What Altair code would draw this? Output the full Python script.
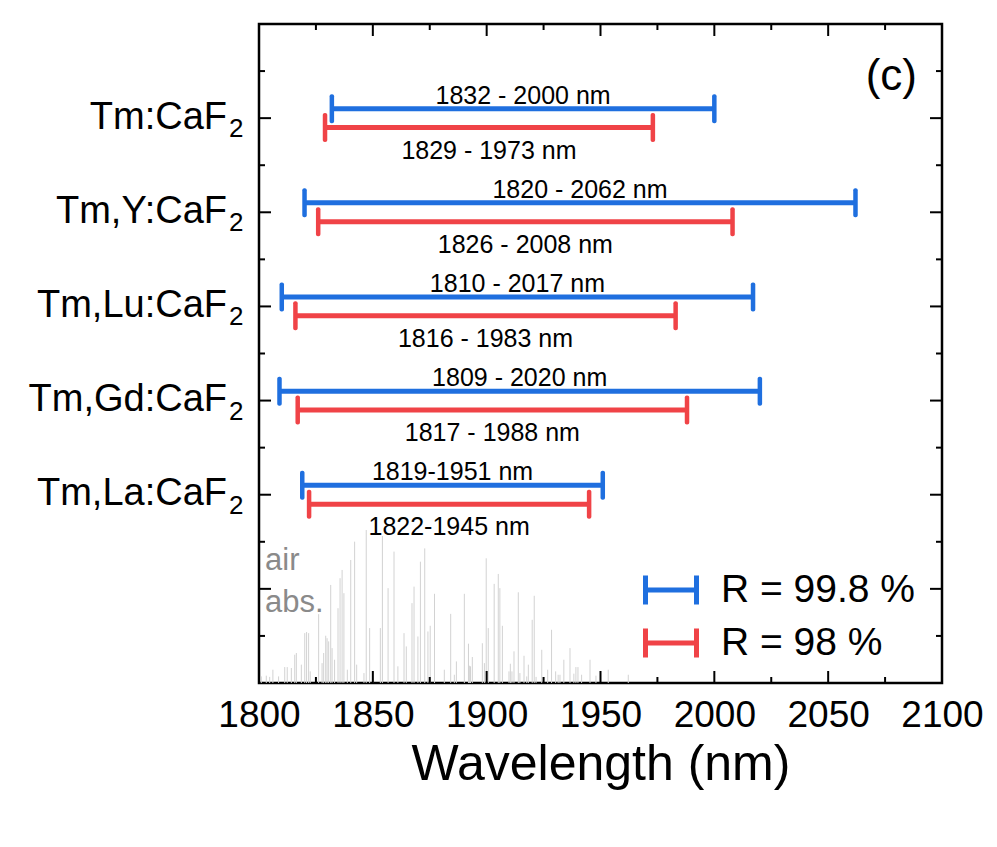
import altair as alt
import pandas as pd

FONT = "Liberation Sans"

materials = ["Tm:CaF", "Tm,Y:CaF", "Tm,Lu:CaF", "Tm,Gd:CaF", "Tm,La:CaF"]
blue_start = [1832, 1820, 1810, 1809, 1819]
blue_end = [2000, 2062, 2017, 2020, 1951]
red_start = [1829, 1826, 1816, 1817, 1822]
red_end = [1973, 2008, 1983, 1988, 1945]
blue_labels = ["1832 - 2000 nm", "1820 - 2062 nm", "1810 - 2017 nm", "1809 - 2020 nm", "1819-1951 nm"]
red_labels = ["1829 - 1973 nm", "1826 - 2008 nm", "1816 - 1983 nm", "1817 - 1988 nm", "1822-1945 nm"]
series = ["R = 99.8 %", "R = 98 %"]
colors = ["#1f6fdf", "#f04347"]

x_ticks = [1800, 1850, 1900, 1950, 2000, 2050, 2100]
x_major_marks = [1850, 1900, 1950, 2000, 2050]
x_minor_marks = [1825, 1875, 1925, 1975, 2025, 2075]
y_major_marks = [2, 4, 6, 8, 10, 12]
y_minor_marks = [1, 3, 5, 7, 9, 11, 13]

air_nm = [1801.0, 1803.2, 1804.7, 1806.1, 1808.6, 1811.3, 1812.4, 1814.2, 1815.7, 1816.4,
          1818.6, 1820.1, 1820.9, 1821.8, 1822.5, 1826.2, 1827.7, 1828.4, 1829.3, 1829.9,
          1830.6, 1831.5, 1832.1, 1833.2, 1834.7, 1835.6, 1836.5, 1837.3, 1838.8, 1840.3,
          1842.0, 1842.9, 1846.1, 1847.1, 1848.6, 1850.1, 1853.3, 1854.2, 1856.7, 1859.3,
          1861.0, 1863.7, 1864.7, 1867.2, 1868.1, 1869.8, 1870.9, 1872.8, 1874.2, 1875.2,
          1877.1, 1881.4, 1884.2, 1885.8, 1886.7, 1890.2, 1892.0, 1892.4, 1892.9, 1893.7,
          1898.1, 1899.0, 1899.8, 1900.7, 1903.3, 1905.1, 1905.8, 1906.9, 1909.8, 1910.4,
          1911.1, 1912.0, 1913.9, 1914.6, 1916.4, 1917.6, 1918.3, 1920.0, 1920.9, 1921.7,
          1924.2, 1926.8, 1928.5, 1930.3, 1931.4, 1932.2, 1933.9, 1936.6, 1938.3, 1939.2,
          1940.1, 1941.7, 1945.4, 1948.0, 1953.4, 1962.2]
air_abs = [0.043, 0.048, 0.04, 0.087, 0.043, 0.104, 0.104, 0.098, 0.185, 0.196,
           0.12, 0.326, 0.333, 0.326, 0.076, 0.45, 0.13, 0.196, 0.309, 0.293,
           0.272, 0.641, 0.228, 0.152, 0.489, 0.685, 0.739, 0.587, 0.087, 0.804,
           0.924, 0.12, 0.065, 1.0, 0.359, 0.076, 0.359, 0.961, 0.62, 0.859,
           0.109, 0.326, 0.239, 0.522, 0.63, 0.304, 0.793, 0.88, 0.337, 0.374,
           0.583, 0.087, 0.452, 0.054, 0.141, 0.583, 0.257, 0.113, 0.109, 0.17,
           0.26, 0.13, 0.815, 0.359, 0.648, 0.713, 0.62, 0.374, 0.076, 0.126,
           0.076, 0.207, 0.593, 0.065, 0.178, 0.043, 0.12, 0.413, 0.57, 0.04,
           0.217, 0.087, 0.348, 0.076, 0.054, 0.054, 0.152, 0.228, 0.061, 0.104,
           0.104, 0.054, 0.152, 0.048, 0.087, 0.054]

W, H = 683, 659

rows = []
for i, m in enumerate(materials):
    pos = 2 * (i + 1)
    rows.append(dict(material=m, pos=pos, series=series[0], y=pos - 0.2,
                     start=blue_start[i], end=blue_end[i], label=blue_labels[i],
                     mid=(blue_start[i] + blue_end[i]) / 2))
    rows.append(dict(material=m, pos=pos, series=series[1], y=pos + 0.2,
                     start=red_start[i], end=red_end[i], label=red_labels[i],
                     mid=(red_start[i] + red_end[i]) / 2))
df = pd.DataFrame(rows)
mat_df = pd.DataFrame({"material": materials, "pos": [2 * (i + 1) for i in range(len(materials))]})
air_df = pd.DataFrame({"nm": air_nm, "abs": air_abs})

xscale = alt.Scale(domain=[1800, 2100], nice=False, zero=False)
yscale = alt.Scale(domain=[0, 14], reverse=True, nice=False, zero=False)
cscale = alt.Scale(domain=series, range=colors)

xaxis = alt.Axis(values=x_ticks, format="d", ticks=False, tickSize=0, domain=False, grid=False,
                 labelFontSize=37, labelFont=FONT, labelColor="black", labelPadding=14,
                 labelFlush=False, labelOverlap=False,
                 title="Wavelength (nm)", titleFontSize=50, titleFont=FONT,
                 titleFontWeight="normal", titleColor="black", titlePadding=6)

air = alt.Chart(air_df).transform_calculate(top="14 - datum.abs * 3.25").mark_rule(
    color="#d2d2d2", strokeWidth=1).encode(
    x=alt.X("nm:Q", scale=xscale, axis=xaxis),
    y=alt.Y("top:Q", scale=yscale, axis=None),
    y2=alt.datum(14))

def xtick_layer(vals, length, top):
    d = pd.DataFrame({"v": vals})
    if top:
        return alt.Chart(d).mark_rule(color="black", strokeWidth=2).encode(
            x=alt.X("v:Q", scale=xscale), y=alt.value(0), y2=alt.value(length))
    return alt.Chart(d).mark_rule(color="black", strokeWidth=2).encode(
        x=alt.X("v:Q", scale=xscale), y=alt.value(H), y2=alt.value(H - length))

def ytick_layer(vals, length, right):
    d = pd.DataFrame({"v": vals})
    if right:
        return alt.Chart(d).mark_rule(color="black", strokeWidth=2).encode(
            y=alt.Y("v:Q", scale=yscale), x=alt.value(W), x2=alt.value(W - length))
    return alt.Chart(d).mark_rule(color="black", strokeWidth=2).encode(
        y=alt.Y("v:Q", scale=yscale), x=alt.value(0), x2=alt.value(length))

ticks = [
    xtick_layer(x_major_marks, 12, False), xtick_layer(x_minor_marks, 6, False),
    xtick_layer(x_major_marks, 12, True), xtick_layer(x_minor_marks, 6, True),
    ytick_layer(y_major_marks, 12, False), ytick_layer(y_minor_marks, 6, False),
    ytick_layer(y_major_marks, 12, True), ytick_layer(y_minor_marks, 6, True),
]

legend = alt.Legend(orient="none", legendX=384, legendY=538, title=None,
                    symbolType="M-1,0L1,0M-1,-0.57L-1,0.57M1,-0.57L1,0.57",
                    symbolSize=2601, symbolStrokeWidth=5, symbolFillColor="transparent",
                    labelFontSize=39, labelFont=FONT, labelColor="black", labelLimit=400,
                    labelOffset=22, rowPadding=0, padding=0)

base = alt.Chart(df)
bars = base.mark_rule(strokeWidth=5).encode(
    x=alt.X("start:Q", scale=xscale), x2="end:Q",
    y=alt.Y("y:Q", scale=yscale),
    color=alt.Color("series:N", scale=cscale, legend=legend))

caps = base.transform_fold(["start", "end"], as_=["which", "xc"]).mark_tick(
    orient="vertical", thickness=4.5, size=29, cornerRadius=2, opacity=1).encode(
    x=alt.X("xc:Q", scale=xscale), y=alt.Y("y:Q", scale=yscale),
    color=alt.Color("series:N", scale=cscale, legend=None))

blue_txt = base.transform_filter(alt.datum.series == series[0]).mark_text(
    fontSize=25, font=FONT, color="black", baseline="alphabetic", dy=-5).encode(
    x=alt.X("mid:Q", scale=xscale), y=alt.Y("y:Q", scale=yscale), text="label:N")
red_txt = base.transform_filter(alt.datum.series == series[1]).mark_text(
    fontSize=25, font=FONT, color="black", baseline="alphabetic", dy=31).encode(
    x=alt.X("mid:Q", scale=xscale), y=alt.Y("y:Q", scale=yscale), text="label:N")

ylab = alt.Chart(mat_df).mark_text(fontSize=38, font=FONT, color="black", align="right",
                                   baseline="alphabetic", dy=10.5).encode(
    x=alt.value(-32), y=alt.Y("pos:Q", scale=yscale), text="material:N")
ysub = alt.Chart(mat_df).mark_text(fontSize=26, font=FONT, color="black", align="left",
                                   baseline="alphabetic", dy=19).encode(
    x=alt.value(-30), y=alt.Y("pos:Q", scale=yscale), text=alt.value("2"))

panel = alt.Chart(pd.DataFrame({"t": ["(c)"]})).mark_text(
    fontSize=44, font=FONT, color="black", align="right", baseline="middle").encode(
    x=alt.value(W - 25), y=alt.value(53), text="t:N")
air_txt = alt.Chart(pd.DataFrame({"t": ["air", "abs."], "yy": [546, 588]})).mark_text(
    fontSize=31, font=FONT, color="#8a8a8a", align="left", baseline="alphabetic").encode(
    x=alt.value(6), y=alt.Y("yy:Q", scale=None), text="t:N")

chart = alt.layer(air, *ticks, bars, caps, blue_txt, red_txt, ylab, ysub, panel, air_txt).properties(
    width=W, height=H,
    padding={"left": 251, "top": 16, "right": 46, "bottom": 150},
    autosize=alt.AutoSizeParams(type="none"),
).configure_view(stroke="black", strokeWidth=2.5)

chart.save("out.html", embed_options={"renderer": "svg", "actions": False})
